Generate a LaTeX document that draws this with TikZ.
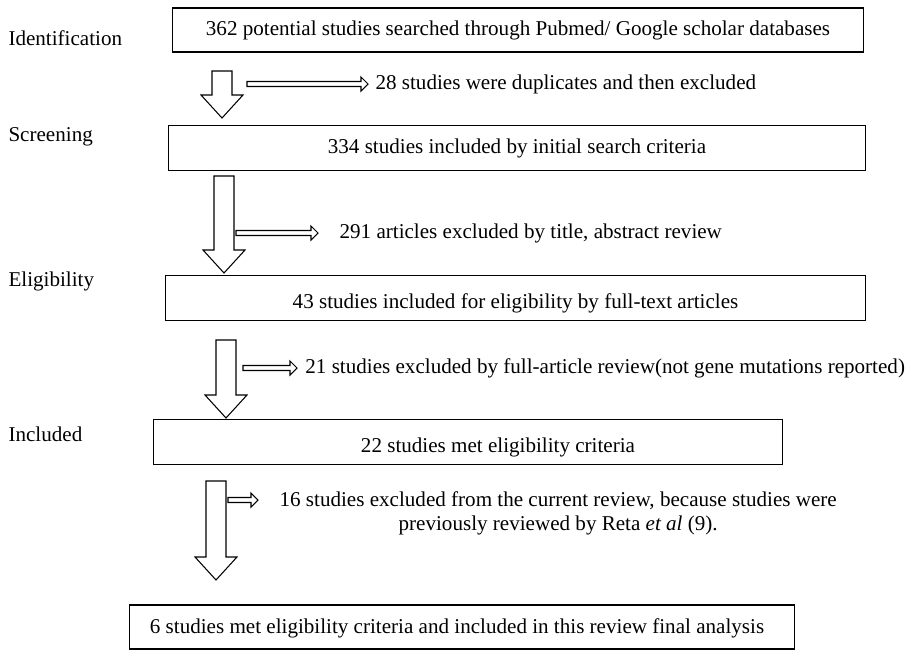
\documentclass[tikz,border=0pt]{standalone}
\usepackage{fontspec}
\setmainfont{Liberation Serif}
\usetikzlibrary{
  calc,
  positioning,
}
\tikzset{
  box/.style={draw,rectangle,inner sep=0pt},
  stage/.style={anchor=west,inner sep=0pt},
  note/.style={anchor=west,inner ysep=0pt},
  downarrow/.style={draw,to path={
      ($(\tikztostart)+(-10,0)$) -- ($(\tikztotarget)+(-10,-23)$) -- ($(\tikztotarget)+(-21,-23)$)
      -- (\tikztotarget) -- ($(\tikztotarget)+(21,-23)$) -- ($(\tikztotarget)+(10,-23)$)
      -- ($(\tikztostart)+(10,0)$) -- cycle}},
  sidearrow/.style={draw,to path={
      ($(\tikztostart)+(0,-2.5)$) -- ($(\tikztotarget)+(-7,-2.5)$) -- ($(\tikztotarget)+(-7,-7)$)
      -- (\tikztotarget) -- ($(\tikztotarget)+(-7,7)$) -- ($(\tikztotarget)+(-7,2.5)$)
      -- ($(\tikztostart)+(0,2.5)$) -- cycle}},
}
\begin{document}
\begin{tikzpicture}[x=0.02cm,y=-0.02cm,line width=0.6pt,font=\fontsize{12}{13.6}\selectfont]
      \useasboundingbox (0,0) rectangle (916,656);

      % stages
      \node[stage] (sid)   at (8,38)  {Identification};
      \node[stage] (sscr)  at (8,137) {Screening};
      \node[stage] (selig) at (8,281) {Eligibility};
      \node[stage] (sinc)  at (8,434) {Included};

      % boxes
      \node[box,minimum width=13.84cm,minimum height=0.88cm] (b1) at (518,30)    {};
      \node[box,minimum width=13.96cm,minimum height=0.9cm]  (b2) at (517,148) {};
      \node[box,minimum width=14.02cm,minimum height=0.9cm]  (b3) at (515.5,298) {};
      \node[box,minimum width=12.6cm,minimum height=0.9cm]   (b4) at (468,442) {};
      \node[box,minimum width=13.3cm,minimum height=0.88cm]  (b5) at (462,627)   {};

      \node (t1) at (b1) {362 potential studies searched through Pubmed/ Google scholar databases};
      \node (t2) at (b2) {334 studies included by initial search criteria};
      \node (t3) at ([yshift=-3pt]b3.center) {43 studies included for eligibility by full-text articles};
      \node (t4) at ([xshift=0.6cm,yshift=-3pt]b4.center) {22 studies met eligibility criteria};
      \node (t5) at ([xshift=-0.1cm,yshift=-1pt]b5.center) {6 studies met eligibility criteria and included in this review final analysis};

      % down arrows
      \coordinate (d1a) at (222,71);  \coordinate (d1b) at (222,118);
      \coordinate (d2a) at (224,176); \coordinate (d2b) at (224,273);
      \coordinate (d3a) at (226,340); \coordinate (d3b) at (226,418);
      \coordinate (d4a) at (216,481); \coordinate (d4b) at (216,580);
      \draw[downarrow] (d1a) to (d1b);
      \draw[downarrow] (d2a) to (d2b);
      \draw[downarrow] (d3a) to (d3b);
      \draw[downarrow] (d4a) to (d4b);

      % exclusions
      \node[note,inner xsep=4pt]   (x1) at (368,84)  {28 studies were duplicates and then excluded};
      \node[note,inner xsep=12pt]  (x2) at (318,233) {291 articles excluded by title, abstract review};
      \node[note,inner xsep=4.5pt] (x3) at (297,368) {21 studies excluded by full-article review(not gene mutations reported)};
      \node[note,inner xsep=12pt,align=center] (x4) at (258,513) {16 studies excluded from the current review, because studies were\\previously reviewed by Reta \textit{et al} (9).};

      \coordinate (h1) at (247,84);
      \coordinate (h2) at (236,233);
      \coordinate (h3) at (243,368);
      \coordinate (h4) at (228,500);
      \coordinate (h4e) at (h4 -| x4.west);
      \draw[sidearrow] (h1) to (x1.west);
      \draw[sidearrow] (h2) to (x2.west);
      \draw[sidearrow] (h3) to (x3.west);
      \draw[sidearrow] (h4) to (h4e);
\end{tikzpicture}
\end{document}
